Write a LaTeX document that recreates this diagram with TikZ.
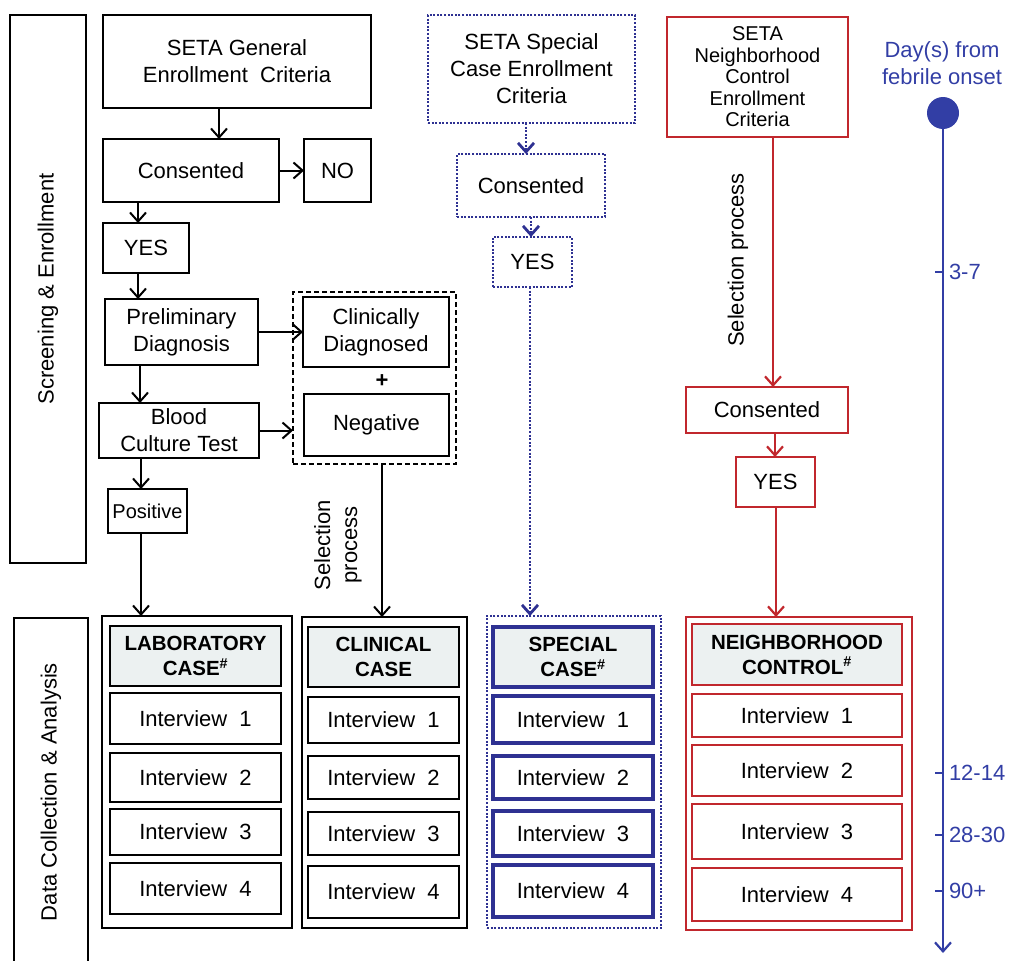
\documentclass[tikz,border=0pt]{standalone}
\usepackage{fontspec}
\setmainfont{Liberation Sans}
\usetikzlibrary{arrows.meta}
\definecolor{specblue}{RGB}{46,49,146}
\definecolor{dayblue}{RGB}{50,62,165}
\definecolor{ctrlred}{RGB}{193,39,45}
\definecolor{headfill}{RGB}{236,241,241}

\begin{document}
\begin{tikzpicture}
[x=1pt, y=-1pt, >={Straight Barb[length=9pt,width=16pt]},
 every node/.style={shape=rectangle, align=center, inner sep=0pt, outer sep=0pt, font=\fontsize{22}{27}\selectfont},
 box/.style={draw, line width=2.3pt},
 flow/.style={->, line width=2pt},
 specbox/.style={draw=specblue, line width=2.6pt, dash pattern=on 2pt off 1.6pt},
 specstrong/.style={draw=specblue, line width=3.6pt},
 specflow/.style={->, draw=specblue, line width=2.8pt, dash pattern=on 2pt off 1.6pt},
 ctrlbox/.style={draw=ctrlred, line width=2.3pt},
 ctrlflow/.style={->, draw=ctrlred, line width=2.2pt},
 head/.style={fill=headfill, font=\bfseries\fontsize{20.5}{25}\selectfont},
 tl/.style={draw=dayblue, line width=2.2pt}]
\useasboundingbox (0,0) rectangle (1013,961);

\node[box, minimum width=548, minimum height=76, rotate=90] (screening) at (48,289) {Screening \& Enrollment};
\node[box, minimum width=348, minimum height=74, rotate=90] (datacoll) at (51,792) {Data Collection \& Analysis};

\node[box, minimum width=268, minimum height=93] (gencrit) at (237,61.5) {SETA General\\Enrollment\ \ Criteria};
\node[box, minimum width=176, minimum height=63] (gencons) at (191,170.5) {Consented};
\node[box, minimum width=67, minimum height=63] (genno) at (337.5,170.5) {NO};
\node[box, minimum width=86, minimum height=50] (genyes) at (146,248) {YES};
\node[box, minimum width=153, minimum height=66] (prelim) at (181.5,332) {Preliminary\\Diagnosis};
\node[box, minimum width=160, minimum height=55] (blood) at (179,430.5) {Blood\\Culture Test};
\node[box, minimum width=79, minimum height=44, font=\fontsize{20}{24}\selectfont] (positive) at (147.5,511) {Positive};
\node[draw, line width=2.3pt, dash pattern=on 5pt off 3pt, minimum width=163, minimum height=172] (clingroup) at (374.5,378) {};
\node[box, minimum width=146, minimum height=70] (clindiag) at (376,332) {Clinically\\Diagnosed};
\node[font=\bfseries\fontsize{22}{27}\selectfont] (plus) at (382,381) {+};
\node[box, minimum width=145, minimum height=62] (negative) at (376.5,425) {Negative};
\node[rotate=90] (clinsel) at (338,545) {Selection\\process};

\node[box, minimum width=190, minimum height=312] (labcase) at (197,772) {};
\node[box, head, minimum width=171, minimum height=60] (labhead) at (195.5,656) {LABORATORY\\CASE\textsuperscript{\#}};
\foreach \i/\y/\h in {1/718.5/51, 2/777.5/49, 3/832/46, 4/888.5/51}
  \node[box, minimum width=171, minimum height=\h] (lab\i) at (195.5,\y) {Interview\ \ \i};

\node[box, minimum width=165, minimum height=311] (clincase) at (384.5,772.5) {};
\node[box, head, minimum width=151, minimum height=60] (clinhead) at (383.5,657) {CLINICAL\\CASE};
\foreach \i/\y/\h in {1/720/46, 2/777.5/43, 3/833.5/43, 4/892/52}
  \node[box, minimum width=151, minimum height=\h] (clin\i) at (383.5,\y) {Interview\ \ \i};

\node[specbox, minimum width=207, minimum height=108] (speccrit) at (531.5,69) {SETA Special\\Case Enrollment\\Criteria};
\node[specbox, minimum width=148, minimum height=63] (speccons) at (531,185.5) {Consented};
\node[specbox, minimum width=79, minimum height=50] (specyes) at (532.5,262) {YES};
\node[specbox, minimum width=174, minimum height=312] (speccase) at (574,772) {};
\node[specstrong, head, minimum width=160, minimum height=60] (spechead) at (573,657) {SPECIAL\\CASE\textsuperscript{\#}};
\foreach \i/\y/\h in {1/719.5/47, 2/777.5/43, 3/833.5/45, 4/891/52}
  \node[specstrong, minimum width=160, minimum height=\h] (spec\i) at (573,\y) {Interview\ \ \i};

\node[ctrlbox, minimum width=181, minimum height=120, font=\fontsize{20}{21.5}\selectfont] (ctrlcrit) at (757.5,77) {SETA\\Neighborhood\\Control\\Enrollment\\Criteria};
\node[ctrlbox, minimum width=162, minimum height=46] (ctrlcons) at (767,410) {Consented};
\node[ctrlbox, minimum width=79, minimum height=50] (ctrlyes) at (775.5,482) {YES};
\node[rotate=90] (ctrlsel) at (738,260) {Selection process};
\node[ctrlbox, minimum width=226, minimum height=313] (ctrlcase) at (799,773.5) {};
\node[ctrlbox, head, minimum width=210, minimum height=61] (ctrlhead) at (797,654.5) {NEIGHBORHOOD\\CONTROL\textsuperscript{\#}};
\foreach \i/\y/\h in {1/715.5/43, 2/770.5/51, 3/831.5/55, 4/894.5/53}
  \node[ctrlbox, minimum width=210, minimum height=\h] (ctrl\i) at (797,\y) {Interview\ \ \i};

\draw[flow] ([xshift=-18]gencrit.south) -- ([xshift=-18]gencrit.south |- gencons.north);
\draw[flow] (gencons.east) -- (genno.west);
\draw[flow] ([xshift=-8]genyes.north |- gencons.south) -- ([xshift=-8]genyes.north);
\draw[flow] ([xshift=-8]genyes.south) -- ([xshift=-8]genyes.south |- prelim.north);
\draw[flow] ([xshift=-41.5]prelim.south) -- ([xshift=-41.5]prelim.south |- blood.north);
\draw[flow] ([xshift=-6.5]positive.north |- blood.south) -- ([xshift=-6.5]positive.north);
\draw[flow] (prelim.east) -- (clindiag.west);
\draw[flow] (blood.east) -- (blood.east -| clingroup.west);
\draw[flow] ([xshift=-6.5]positive.south) -- ([xshift=-6.5]positive.south |- labcase.north);
\draw[flow] ([xshift=7.5]clingroup.south) -- ([xshift=7.5]clingroup.south |- clincase.north);

\draw[specflow] ([xshift=-5.5]speccrit.south) -- ([xshift=-5.5]speccrit.south |- speccons.north);
\draw[specflow] (speccons.south) -- (speccons.south |- specyes.north);
\draw[specflow] ([xshift=-2.5]specyes.south) -- ([xshift=-2.5]specyes.south |- speccase.north);

\draw[ctrlflow] ([xshift=15.5]ctrlcrit.south) -- ([xshift=15.5]ctrlcrit.south |- ctrlcons.north);
\draw[ctrlflow] ([xshift=8]ctrlcons.south) -- ([xshift=8]ctrlcons.south |- ctrlyes.north);
\draw[ctrlflow] ([xshift=0.5]ctrlyes.south) -- ([xshift=0.5]ctrlyes.south |- ctrlcase.north);

\node[text=dayblue] (daylab) at (942,63) {Day(s) from\\febrile onset};
\node[circle, fill=dayblue, minimum size=32] (onset) at (943,113) {};
\coordinate (tlend) at (943,953);
\draw[tl, ->] (onset) -- (tlend);
\foreach \y/\d [count=\k] in {272/3-7, 773/12-14, 835/28-30, 891/90+} {
  \coordinate (tick\k) at (943,\y);
  \draw[tl] (tick\k) -- ++(-8,0);
  \node[text=dayblue, anchor=west] (day\k) at ([xshift=6]tick\k) {\d};
}
\end{tikzpicture}
\end{document}
